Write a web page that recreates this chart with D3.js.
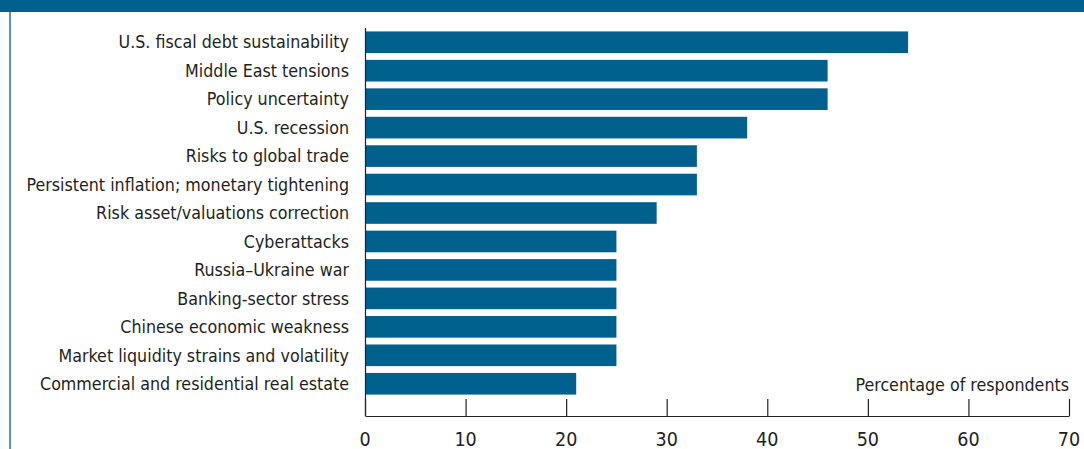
<!DOCTYPE html>
<html>
<head>
<meta charset="utf-8">
<script src="https://cdn.jsdelivr.net/npm/d3@7"></script>
<style>
  body { margin: 0; background: #fff; }
  svg text { font-family: "Liberation Sans Narrow", "DejaVu Sans Condensed", sans-serif; fill: #231f20; }
</style>
</head>
<body>
<svg width="1084" height="449"></svg>
<script>
var categories = [
  "U.S. fiscal debt sustainability",
  "Middle East tensions",
  "Policy uncertainty",
  "U.S. recession",
  "Risks to global trade",
  "Persistent inflation; monetary tightening",
  "Risk asset/valuations correction",
  "Cyberattacks",
  "Russia\u2013Ukraine war",
  "Banking-sector stress",
  "Chinese economic weakness",
  "Market liquidity strains and volatility",
  "Commercial and residential real estate"
];
var values = [54, 46, 46, 38, 33, 33, 29, 25, 25, 25, 25, 25, 21];
var xTicks = [0, 10, 20, 30, 40, 50, 60, 70];
var axisTitle = "Percentage of respondents";

var svg = d3.select("svg");

// frame: header band and left rule
svg.append("rect").attr("x", 0).attr("y", 0).attr("width", 1084).attr("height", 12).style("fill", "#00618f");
svg.append("rect").attr("x", 9).attr("y", 12).attr("width", 2).attr("height", 437).style("fill", "#4f97c2");

var x = d3.scaleLinear().domain([0, 70]).range([365, 1069]);
var y = d3.scaleBand().domain(categories).range([28, 398]).paddingInner(0.24).paddingOuter(0.12);

svg.selectAll(".bar")
  .data(categories)
  .enter()
  .append("rect")
    .attr("class", "bar")
    .attr("x", x(0))
    .attr("y", function(d) { return y(d); })
    .attr("width", function(d, i) { return x(values[i]) - x(0); })
    .attr("height", y.bandwidth())
    .style("fill", "#00618f");

// category labels
svg.selectAll(".lab")
  .data(categories)
  .enter()
  .append("text")
    .attr("class", "lab")
    .attr("x", 349)
    .attr("y", function(d) { return y(d) + y.bandwidth() / 2; })
    .attr("dy", "0.35em")
    .attr("text-anchor", "end")
    .style("font-size", "17.7px")
    .text(function(d) { return d; });

// y axis line
svg.append("line")
  .attr("x1", x(0) + 0.5).attr("x2", x(0) + 0.5)
  .attr("y1", 28).attr("y2", 416)
  .style("stroke", "#231f20").style("stroke-width", 1.2);

// x axis: ticks point up into the plot
var xAxis = svg.append("g")
  .attr("transform", "translate(0,416)")
  .call(d3.axisTop(x).tickValues(xTicks).tickSize(17).tickSizeOuter(0).tickFormat(function() { return ""; }));
xAxis.select(".domain").style("stroke", "#231f20").style("stroke-width", 1.2);
xAxis.selectAll(".tick line").style("stroke", "#231f20").style("stroke-width", 1.2);

svg.selectAll(".tl")
  .data(xTicks)
  .enter()
  .append("text")
    .attr("class", "tl")
    .attr("x", function(d) { return x(d); })
    .attr("y", 446)
    .attr("text-anchor", "middle")
    .style("font-size", "19.5px")
    .text(function(d) { return d; });

svg.append("text")
  .attr("x", x(70))
  .attr("y", 391)
  .attr("text-anchor", "end")
  .style("font-size", "17.7px")
  .text(axisTitle);
</script>
</body>
</html>
